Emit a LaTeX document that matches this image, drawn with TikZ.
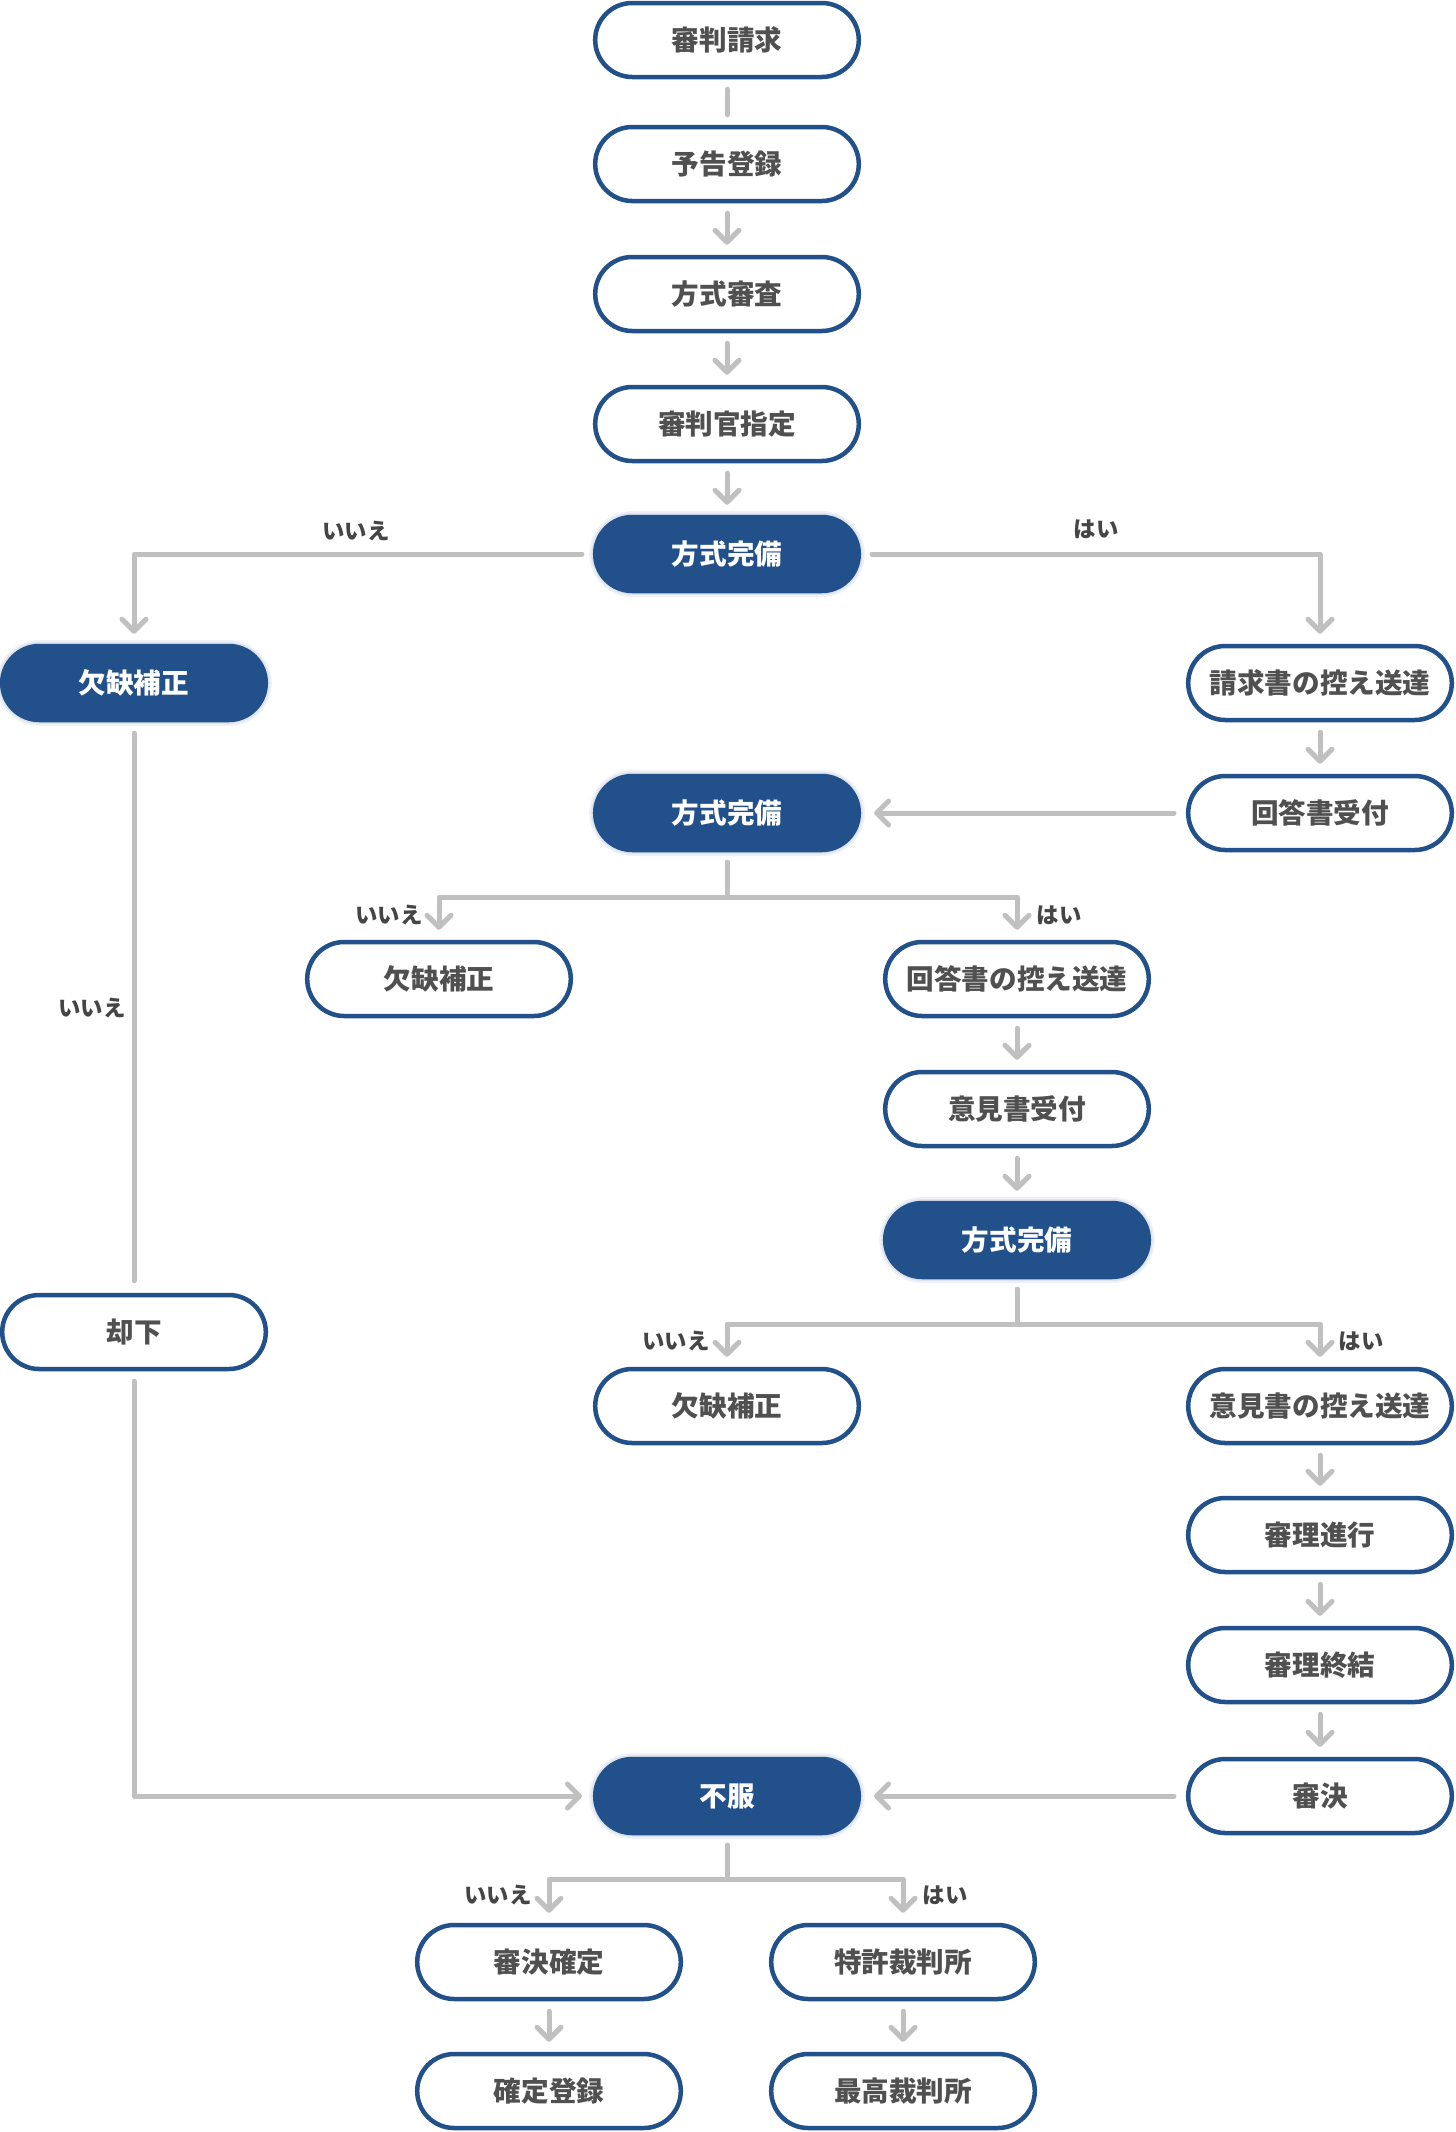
\documentclass[tikz,border=0pt]{standalone}
\usepackage{fontspec}
\newfontfamily\jp{Noto Sans CJK JP}
\usetikzlibrary{arrows.meta}
\definecolor{boxblue}{HTML}{22508A}
\definecolor{txtgray}{HTML}{505050}
\definecolor{lblgray}{HTML}{454545}
\definecolor{linegray}{HTML}{C0C0C0}
\begin{document}
\begin{tikzpicture}[x=0.5pt,y=-0.5pt,
  box/.style={draw=boxblue, line width=2.25pt, fill=white, rectangle,
    rounded corners=18.5pt, minimum width=131.8pt, minimum height=37pt,
    inner sep=0pt, font=\jp\bfseries\fontsize{13.8pt}{16pt}\selectfont, text=txtgray},
  fbox/.style={box, fill=boxblue, text=white,
    preaction={draw=boxblue!30, line width=6pt, opacity=0.25},
    preaction={draw=boxblue!30, line width=4pt, opacity=0.35}},
  lbl/.style={font=\jp\bfseries\fontsize{11.2pt}{13pt}\selectfont, text=lblgray, inner sep=0pt},
  conn/.style={draw=linegray, line width=2.5pt, line cap=round, line join=round,
    shorten <=5pt, shorten >=5pt},
  arr/.style={conn, -{Straight Barb[length=6pt, width=12pt, line width=2.5pt, round]}}
]
\useasboundingbox (0,0) rectangle (1456,2132);

% nodes
\node[box]  (n1) at (727,40)   {審判請求};
\node[box]  (n2) at (727,164)  {予告登録};
\node[box]  (n3) at (727,294)  {方式審査};
\node[box]  (n4) at (727,424)  {審判官指定};
\node[fbox] (f1) at (727,554)  {方式完備};
\node[fbox] (kL) at (134,683)  {欠缺補正};
\node[box]  (s1) at (1320,683) {請求書の控え送達};
\node[box]  (s2) at (1320,813) {回答書受付};
\node[fbox] (f2) at (727,813)  {方式完備};
\node[box]  (k2) at (439,979)  {欠缺補正};
\node[box]  (a1) at (1017,979) {回答書の控え送達};
\node[box]  (a2) at (1017,1109) {意見書受付};
\node[fbox] (f3) at (1017,1240) {方式完備};
\node[box]  (ky) at (134,1332) {却下};
\node[box]  (k3) at (727,1406) {欠缺補正};
\node[box]  (o1) at (1320,1406) {意見書の控え送達};
\node[box]  (o2) at (1320,1535) {審理進行};
\node[box]  (o3) at (1320,1665) {審理終結};
\node[box]  (o4) at (1320,1796) {審決};
\node[fbox] (fu) at (727,1796) {不服};
\node[box]  (d1) at (549,1962) {審決確定};
\node[box]  (d2) at (549,2091) {確定登録};
\node[box]  (t1) at (903,1962) {特許裁判所};
\node[box]  (t2) at (903,2091) {最高裁判所};

% junctions
\coordinate (j2) at (727,897);
\coordinate (j3) at (1017,1324);
\coordinate (j4) at (727,1879);

% connectors
\draw[conn] (n1) -- (n2);
\draw[arr] (n2) -- (n3);
\draw[arr] (n3) -- (n4);
\draw[arr] (n4) -- (f1);
\draw[arr, shorten <=5.5pt] (f1.west) -| (kL.north);
\draw[arr, shorten <=5.5pt] (f1.east) -| (s1.north);
\draw[conn, shorten <=5.5pt, shorten >=6pt] (kL) -- (ky);
\draw[arr] (s1) -- (s2);
\draw[arr, shorten <=6pt, shorten >=6.5pt] (s2.west) -- (f2.east);
\draw[arr] (f2.south) -- (j2) -| (k2.north);
\draw[arr] (f2.south) -- (j2) -| (a1.north);
\draw[arr] (a1) -- (a2);
\draw[arr] (a2) -- (f3);
\draw[arr] (f3.south) -- (j3) -| (k3.north);
\draw[arr] (f3.south) -- (j3) -| (o1.north);
\draw[arr, shorten >=5.5pt] (ky.south) |- (fu.west);
\draw[arr] (o1) -- (o2);
\draw[arr] (o2) -- (o3);
\draw[arr] (o3) -- (o4);
\draw[arr, shorten <=6pt, shorten >=6.5pt] (o4.west) -- (fu.east);
\draw[arr] (fu.south) -- (j4) -| (d1.north);
\draw[arr] (fu.south) -- (j4) -| (t1.north);
\draw[arr] (d1) -- (d2);
\draw[arr] (t1) -- (t2);

% labels
\node[lbl] (l1) at (356,531) {いいえ};
\node[lbl] (l2) at (1096,529) {はい};
\node[lbl] (l3) at (92,1008) {いいえ};
\node[lbl] (l4) at (389,915) {いいえ};
\node[lbl] (l5) at (1059,915) {はい};
\node[lbl] (l6) at (676,1341) {いいえ};
\node[lbl] (l7) at (1361,1341) {はい};
\node[lbl] (l8) at (498,1895) {いいえ};
\node[lbl] (l9) at (945,1895) {はい};
\end{tikzpicture}
\end{document}
